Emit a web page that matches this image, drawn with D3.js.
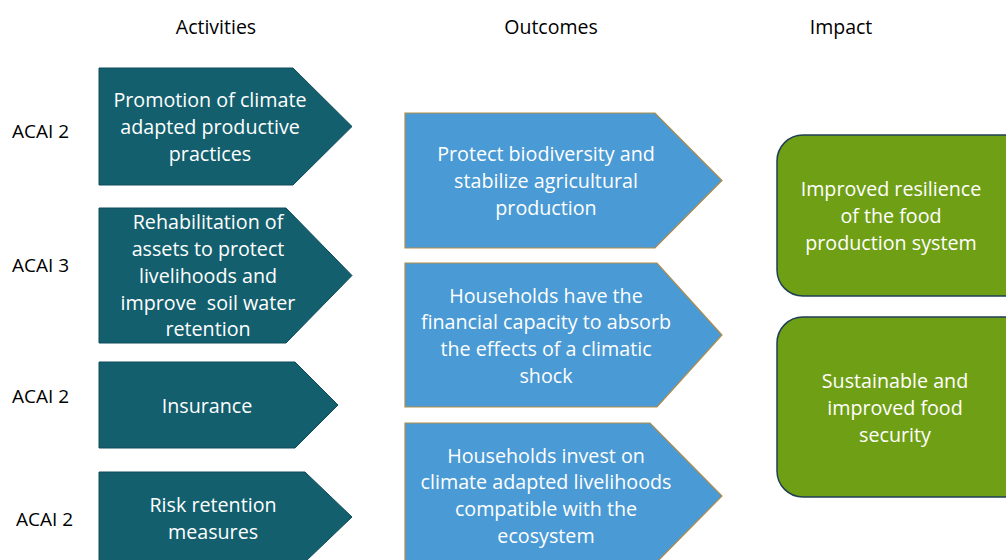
<!DOCTYPE html>
<html>
<head>
<meta charset="utf-8">
<script src="https://cdn.jsdelivr.net/npm/d3@7"></script>
<style>
  body { margin: 0; background: #fff; }
  text { font-family: "Open Sans", Lato, sans-serif; }
</style>
</head>
<body>
<div id="chart"></div>
<script>
// column headers
const headers = ["Activities", "Outcomes", "Impact"];

// activities column
const acaiLabels = ["ACAI 2", "ACAI 3", "ACAI 2", "ACAI 2"];
const activities = [
  ["Promotion of climate", "adapted productive", "practices"],
  ["Rehabilitation of", "assets to protect", "livelihoods and", "improve  soil water", "retention"],
  ["Insurance"],
  ["Risk retention", "measures"]
];

// outcomes column
const outcomes = [
  ["Protect biodiversity and", "stabilize agricultural", "production"],
  ["Households have the", "financial capacity to absorb", "the effects of a climatic", "shock"],
  ["Households invest on", "climate adapted livelihoods", "compatible with the", "ecosystem"]
];

// impact column
const impacts = [
  ["Improved resilience", "of the food", "production system"],
  ["Sustainable and", "improved food", "security"]
];

// ---- layout (pixel geometry, kept apart from the content) ----
const width = 1006, height = 560;
const headerX = [216, 551, 841];
const lineH = 26.8;
const boxFont = "19.7px";

const actBoxes = [
  { x0: 99, x1: 293, tip: 352, y0: 68, y1: 185, tx: 210, ty: 127, labelX: 12, labelY: 131 },
  { x0: 99, x1: 286, tip: 352, y0: 208, y1: 343, tx: 208, ty: 276, labelX: 12, labelY: 265 },
  { x0: 99, x1: 295, tip: 338, y0: 362, y1: 448, tx: 207, ty: 406, labelX: 12, labelY: 396 },
  { x0: 99, x1: 305, tip: 352, y0: 472, y1: 562, tx: 213, ty: 519, labelX: 16, labelY: 519 }
];
const outBoxes = [
  { x0: 405, x1: 655, tip: 722, y0: 113, y1: 248, tx: 546, ty: 181 },
  { x0: 405, x1: 657, tip: 722, y0: 263, y1: 407, tx: 546, ty: 336 },
  { x0: 405, x1: 650, tip: 722, y0: 423, y1: 569, tx: 546, ty: 496 }
];
const impBoxes = [
  { x0: 777, x1: 1030, y0: 135, y1: 296, tx: 891, ty: 216 },
  { x0: 777, x1: 1030, y0: 317, y1: 497, tx: 895, ty: 408 }
];

const svg = d3.select("#chart")
  .append("svg")
  .attr("width", width)
  .attr("height", height);

// arrow pentagon path
const arrowPath = (b) => {
  const p = d3.path();
  const ym = (b.y0 + b.y1) / 2;
  p.moveTo(b.x0, b.y0);
  p.lineTo(b.x1, b.y0);
  p.lineTo(b.tip, ym);
  p.lineTo(b.x1, b.y1);
  p.lineTo(b.x0, b.y1);
  p.closePath();
  return p.toString();
};

// multi-line centered text
const addLines = (g, lines, cx, cy, color) => {
  const t = g.append("text")
    .attr("text-anchor", "middle")
    .attr("fill", color)
    .attr("font-size", boxFont);
  lines.forEach((s, i) => {
    t.append("tspan")
      .attr("x", cx)
      .attr("y", cy + (i - (lines.length - 1) / 2) * lineH)
      .attr("dy", "0.35em")
      .attr("xml:space", "preserve")
      .text(s);
  });
};

// headers
svg.selectAll("text.header")
  .data(headers)
  .enter()
  .append("text")
  .attr("class", "header")
  .attr("x", (d, i) => headerX[i])
  .attr("y", 27)
  .attr("dy", "0.35em")
  .attr("text-anchor", "middle")
  .attr("font-size", "19.5px")
  .attr("fill", "#000")
  .text((d) => d);

// activities
activities.forEach((lines, i) => {
  const b = actBoxes[i];
  const g = svg.append("g");
  g.append("path")
    .attr("d", arrowPath(b))
    .attr("fill", "#135f6e")
    .attr("stroke", "#0f4d5a")
    .attr("stroke-width", 1);
  addLines(g, lines, b.tx, b.ty, "#fff");
  g.append("text")
    .attr("x", b.labelX)
    .attr("y", b.labelY)
    .attr("dy", "0.35em")
    .attr("font-size", "19px")
    .attr("fill", "#000")
    .text(acaiLabels[i]);
});

// outcomes
outcomes.forEach((lines, i) => {
  const b = outBoxes[i];
  const g = svg.append("g");
  g.append("path")
    .attr("d", arrowPath(b))
    .attr("fill", "#4a9ad5")
    .attr("stroke", "#b08d4a")
    .attr("stroke-width", 1.2);
  addLines(g, lines, b.tx, b.ty, "#fff");
});

// impact
impacts.forEach((lines, i) => {
  const b = impBoxes[i];
  const g = svg.append("g");
  g.append("rect")
    .attr("x", b.x0)
    .attr("y", b.y0)
    .attr("width", b.x1 - b.x0)
    .attr("height", b.y1 - b.y0)
    .attr("rx", 26)
    .attr("fill", "#6f9f15")
    .attr("stroke", "#1f3f55")
    .attr("stroke-width", 1.5);
  addLines(g, lines, b.tx, b.ty, "#fff");
});
</script>
</body>
</html>
